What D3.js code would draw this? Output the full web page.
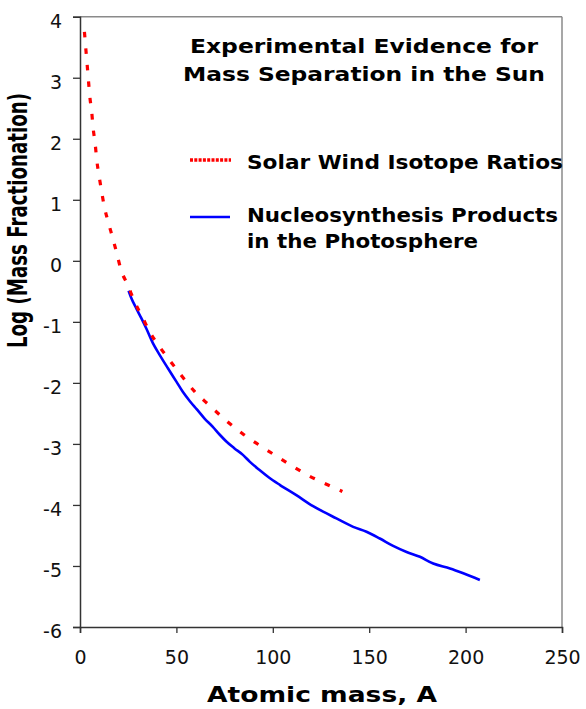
<!DOCTYPE html>
<html><head><meta charset="utf-8">
<script src="https://cdn.jsdelivr.net/npm/d3@7"></script>
<style>body{margin:0;background:#fff}svg{display:block}</style>
</head><body>
<svg id="c" width="586" height="709"></svg>
<script>
// Solar wind isotope ratios (red dashed): [A, log fractionation]
const solarWindA = [2.3,3.0,3.7,4.4,5.1,6.1,6.8,7.9,8.7,9.8,11.2,12.6,14.6,17.0,19.1,21.2,24.8,28.3,32.3,36.1,41.3,47.0,53.1,59.4,67.2,75.9,84.2,92.5,101.9,110.5,119.2,127.8,136.1];
const solarWindV = [3.75,3.48,3.22,2.95,2.69,2.43,2.18,1.91,1.65,1.41,1.14,0.89,0.64,0.37,0.12,-0.14,-0.40,-0.67,-0.92,-1.16,-1.41,-1.65,-1.90,-2.14,-2.37,-2.62,-2.83,-3.01,-3.20,-3.37,-3.53,-3.66,-3.78];
// Nucleosynthesis products in the photosphere (blue solid)
const photoA = [25.2,26.6,29.2,31.8,34.4,37.8,41.3,45.6,50.0,53.4,57.0,60.5,64.5,68.9,72.5,75.9,80.0,84.5,88.0,92.8,98.0,103.6,112.2,120.9,126.1,133.0,141.7,148.6,155.5,162.4,169.4,176.3,183.2,191.9,198.8,207.4];
const photoV = [-0.49,-0.61,-0.78,-0.94,-1.11,-1.35,-1.54,-1.76,-1.98,-2.15,-2.30,-2.43,-2.58,-2.72,-2.85,-2.96,-3.07,-3.18,-3.29,-3.42,-3.55,-3.67,-3.84,-4.02,-4.11,-4.22,-4.36,-4.44,-4.55,-4.67,-4.77,-4.85,-4.96,-5.04,-5.12,-5.23];
const xTicks = [0,50,100,150,200,250];
const yTicks = [4,3,2,1,0,-1,-2,-3,-4,-5,-6];
const titleLines = ["Experimental Evidence for","Mass Separation in the Sun"];
const legendLabels = ["Solar Wind Isotope Ratios","Nucleosynthesis Products","in the Photosphere"];

const svg = d3.select("#c");
const L=80, R=562, T=16.7, B=627;
const x = d3.scaleLinear().domain([0,250]).range([L,R]);
const y = d3.scaleLinear().domain([-6,4]).range([B,T]);
const font = "'DejaVu Sans', Verdana, sans-serif";

// frame top/right
svg.append("line").attr("x1",L).attr("x2",R).attr("y1",T).attr("y2",T).attr("stroke","#8a8a8a").attr("stroke-width",1.5);
svg.append("line").attr("x1",R).attr("x2",R).attr("y1",T).attr("y2",B).attr("stroke","#8a8a8a").attr("stroke-width",1.5);

const xAxis = svg.append("g").attr("transform",`translate(0,${B})`)
  .call(d3.axisBottom(x).tickValues(xTicks).tickSize(6).tickPadding(20).tickFormat(d3.format("d")));
const yAxis = svg.append("g").attr("transform",`translate(${L},0)`)
  .call(d3.axisLeft(y).tickValues(yTicks).tickSize(7).tickPadding(11).tickFormat(d=>d<0?"-"+Math.abs(d):String(d)));
[xAxis,yAxis].forEach(g=>{
  g.selectAll("path").attr("stroke","#333").attr("stroke-width",1.5);
  g.selectAll("line").attr("stroke","#333").attr("stroke-width",1.3);
  g.selectAll("text").attr("font-family",font).attr("font-size",19).attr("fill","#111");
});
yAxis.selectAll("text").attr("dy","0.55em");
xAxis.selectAll("text").attr("dy","0.6em");

const line = d3.line().x(d=>x(d[0])).y(d=>y(d[1])).curve(d3.curveMonotoneX);
const redData = solarWindA.map((a,i)=>[a,solarWindV[i]]);
const blueData = photoA.map((a,i)=>[a,photoV[i]]);
svg.append("path").attr("d",line(blueData)).attr("fill","none").attr("stroke","#0000ff").attr("stroke-width",2.6);
svg.append("path").attr("d",line(redData)).attr("fill","none").attr("stroke","#ff0000").attr("stroke-width",3.2).attr("stroke-dasharray","5.5,11");

// title
const tl = [[53.3,348],[81,362]];
titleLines.forEach((t,i)=>{
  svg.append("text").attr("x",364).attr("y",tl[i][0]).attr("text-anchor","middle")
    .attr("font-family",font).attr("font-weight","bold").attr("font-size",19.5)
    .attr("textLength",tl[i][1]).attr("lengthAdjust","spacingAndGlyphs").text(t);
});
// legend
svg.append("line").attr("x1",190).attr("x2",231).attr("y1",160).attr("y2",160).attr("stroke","#ff0000").attr("stroke-width",3.5).attr("stroke-dasharray","3,1.3");
svg.append("line").attr("x1",190).attr("x2",230).attr("y1",217).attr("y2",217).attr("stroke","#0000ff").attr("stroke-width",2.6);
const lg = [[169,316],[222.3,311],[248.3,231]];
legendLabels.forEach((t,i)=>{
  svg.append("text").attr("x",247).attr("y",lg[i][0]).attr("font-family",font).attr("font-weight","bold").attr("font-size",19.5)
    .attr("textLength",lg[i][1]).attr("lengthAdjust","spacingAndGlyphs").text(t);
});
// axis titles
svg.append("text").attr("x",322).attr("y",702).attr("text-anchor","middle").attr("font-family",font).attr("font-weight","bold").attr("font-size",21)
  .attr("textLength",230).attr("lengthAdjust","spacingAndGlyphs").text("Atomic mass, A");
svg.append("text").attr("transform","translate(27,220.5) rotate(-90)").attr("text-anchor","middle").attr("font-family",font).attr("font-weight","bold").attr("font-size",26.5)
  .attr("textLength",255).attr("lengthAdjust","spacingAndGlyphs").text("Log (Mass Fractionation)");
</script>
</body></html>
